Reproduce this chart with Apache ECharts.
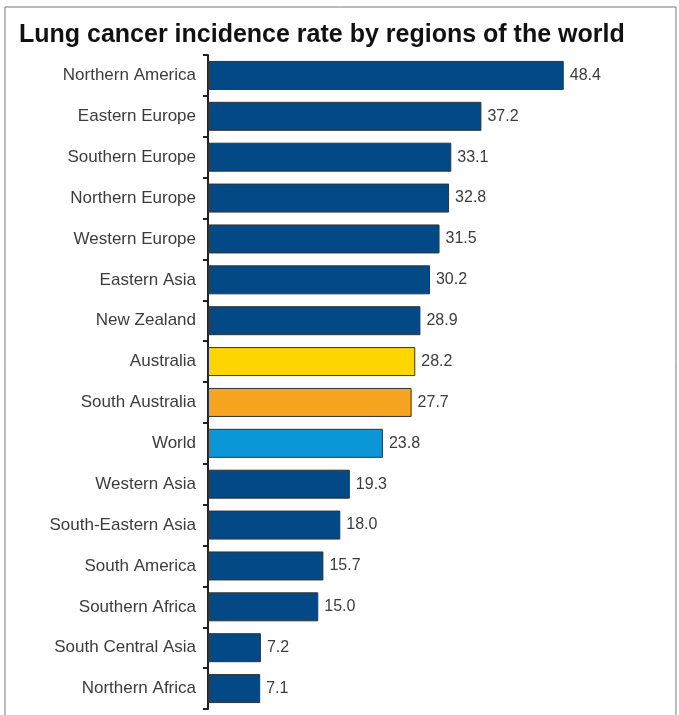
<html>
<head>
<meta charset="utf-8">
<script src="https://cdn.jsdelivr.net/npm/echarts@6/dist/echarts.min.js"></script>
<style>
	body{margin:0;background:#fff;}
	#chart{width:679px;height:715px;}
</style>
</head>
<body>
<div id="chart"></div>
<script>
	// data, top to bottom as in the picture
	var regions = ["Northern America","Eastern Europe","Southern Europe","Northern Europe","Western Europe","Eastern Asia","New Zealand","Australia","South Australia","World","Western Asia","South-Eastern Asia","South America","Southern Africa","South Central Asia","Northern Africa"];
	var rates = [48.4, 37.2, 33.1, 32.8, 31.5, 30.2, 28.9, 28.2, 27.7, 23.8, 19.3, 18.0, 15.7, 15.0, 7.2, 7.1];
	var highlight = {"Australia":"#fdd500","South Australia":"#f7a520","World":"#0b97d7"};
	var baseColor = "#034985";

	var bars = [];
	for (var i = 0; i < regions.length; i++) {
		bars.push({
			value: rates[i],
			itemStyle: {color: highlight[regions[i]] || baseColor}
		});
	}

	var myChart = echarts.init(document.getElementById('chart'));
	var option = {
		animation: false,
		title: {
			text: 'Lung cancer incidence rate by regions of the world',
			left: 14, top: 18,
			textStyle: {fontFamily: 'Liberation Sans', fontWeight: 'bold', fontSize: 25, color: '#111'}
		},
		graphic: [{
			type: 'rect',
			shape: {x: 5, y: 7, width: 671, height: 760},
			style: {fill: 'none', stroke: '#777', lineWidth: 1}
		}],
		grid: {left: 208, top: 55, width: 441, height: 654},
		xAxis: {
			type: 'value', min: 0, max: 60, show: false
		},
		yAxis: {
			type: 'category',
			data: regions,
			inverse: true,
			axisLine: {show: true, lineStyle: {color: '#222', width: 2}},
			axisTick: {show: true, length: 5, lineStyle: {color: '#222', width: 2}},
			axisLabel: {margin: 12, fontFamily: 'Liberation Sans', fontSize: 17, color: '#3c3c3c'}
		},
		series: [{
			type: 'bar',
			data: bars,
			barWidth: 29,
			itemStyle: {borderColor: '#333', borderWidth: 1},
			label: {
				show: true, position: 'right', distance: 6,
				formatter: function (p) { return p.value.toFixed(1); },
				fontFamily: 'Liberation Sans', fontSize: 16, color: '#3c3c3c'
			}
		}]
	};
	myChart.setOption(option);
</script>
</body>
</html>
